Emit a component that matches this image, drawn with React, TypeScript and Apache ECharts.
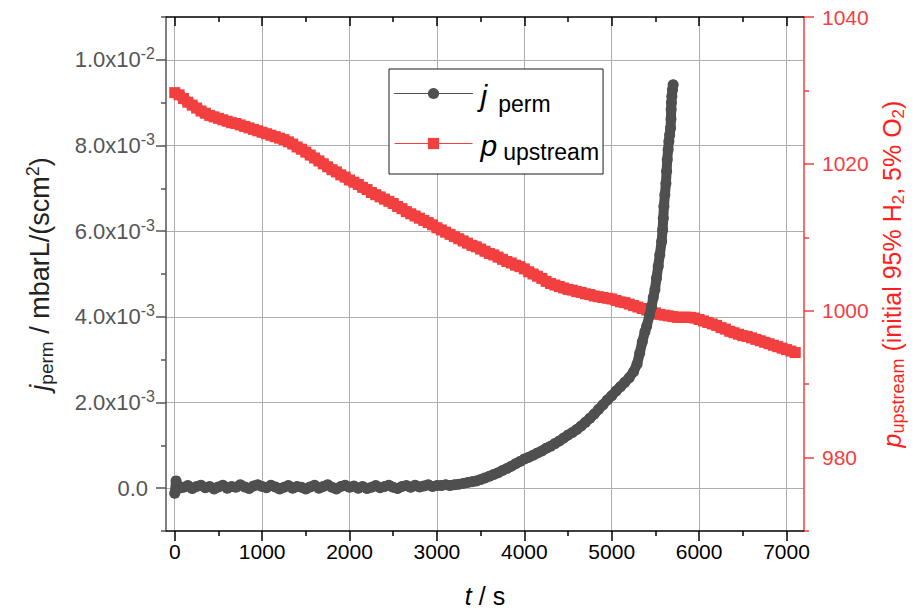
import React, { useEffect, useRef } from "react";
import * as echarts from "echarts";

// ---- data ----
const tJ = [
  0, 15, 30, 50, 100, 150, 200, 250, 300, 350, 400, 450, 500, 550, 600, 650, 700, 750, 800, 850,
  900, 950, 1000, 1050, 1100, 1150, 1200, 1250, 1300, 1350, 1400, 1450, 1500, 1550, 1600, 1650,
  1700, 1750, 1800, 1850, 1900, 1950, 2000, 2050, 2100, 2150, 2200, 2250, 2300, 2350, 2400, 2450,
  2500, 2550, 2600, 2650, 2700, 2750, 2800, 2850, 2900, 2950, 3000, 3050, 3100, 3150, 3200, 3250,
  3300, 3350, 3400, 3450, 3500, 3550, 3600, 3650, 3700, 3750, 3800, 3850, 3900, 3950, 4000, 4050,
  4100, 4150, 4200, 4250, 4300, 4350, 4400, 4450, 4500, 4550, 4600, 4650, 4700, 4750, 4800, 4850,
  4900, 4950, 5000, 5050, 5100, 5150, 5200, 5250, 5290, 5320, 5350, 5380, 5400, 5430, 5456, 5475,
  5494, 5512, 5532, 5550, 5571, 5582, 5590, 5597, 5608, 5620, 5628, 5635, 5645, 5654, 5663, 5673,
  5678, 5680, 5683, 5688, 5695, 5703,
];
const jPerm = [
  -0.12e-3, 0.17e-3, 0.06e-3, 0.0, 0.02e-3, 0.06e-3, -0.01e-3, 0.04e-3, 0.07e-3, 0.01e-3, 0.04e-3, -0.02e-3,
  0.03e-3, 0.07e-3, 0.0, 0.04e-3, 0.02e-3, 0.08e-3, 0.03e-3, -0.01e-3, 0.05e-3, 0.08e-3, 0.04e-3, 0.01e-3,
  0.07e-3, 0.03e-3, -0.02e-3, 0.02e-3, 0.06e-3, 0.0, 0.04e-3, 0.02e-3, -0.02e-3, 0.03e-3, 0.07e-3, 0.0,
  0.04e-3, 0.08e-3, 0.02e-3, -0.02e-3, 0.04e-3, 0.07e-3, 0.02e-3, 0.05e-3, 0.0, 0.04e-3, -0.01e-3, 0.02e-3,
  0.06e-3, 0.01e-3, 0.04e-3, 0.07e-3, 0.02e-3, -0.01e-3, 0.04e-3, 0.06e-3, 0.02e-3, 0.07e-3, 0.03e-3, 0.05e-3,
  0.08e-3, 0.04e-3, 0.06e-3, 0.06e-3, 0.08e-3, 0.06e-3, 0.08e-3, 0.09e-3, 0.11e-3, 0.13e-3, 0.15e-3, 0.17e-3,
  0.2e-3, 0.24e-3, 0.28e-3, 0.32e-3, 0.36e-3, 0.41e-3, 0.46e-3, 0.51e-3, 0.57e-3, 0.62e-3, 0.68e-3, 0.72e-3,
  0.77e-3, 0.82e-3, 0.87e-3, 0.93e-3, 0.98e-3, 1.04e-3, 1.1e-3, 1.17e-3, 1.24e-3, 1.3e-3, 1.37e-3, 1.45e-3,
  1.54e-3, 1.63e-3, 1.73e-3, 1.84e-3, 1.95e-3, 2.06e-3, 2.16e-3, 2.27e-3, 2.37e-3, 2.47e-3, 2.58e-3, 2.72e-3,
  2.9e-3, 3.15e-3, 3.42e-3, 3.65e-3, 3.78e-3, 4.02e-3, 4.24e-3, 4.45e-3, 4.63e-3, 4.9e-3, 5.18e-3, 5.45e-3,
  5.76e-3, 6.03e-3, 6.3e-3, 6.58e-3, 6.85e-3, 7.12e-3, 7.4e-3, 7.67e-3, 7.9e-3, 8.1e-3, 8.25e-3, 8.41e-3,
  8.62e-3, 8.84e-3, 9.0e-3, 9.15e-3, 9.3e-3, 9.42e-3,
];
const tP = [
  0, 50, 100, 150, 200, 250, 300, 350, 400, 450, 500, 550, 600, 650, 700, 750, 800, 850, 900, 950,
  1000, 1050, 1100, 1150, 1200, 1250, 1300, 1350, 1400, 1450, 1500, 1550, 1600, 1650, 1700, 1750,
  1800, 1850, 1900, 1950, 2000, 2050, 2100, 2150, 2200, 2250, 2300, 2350, 2400, 2450, 2500, 2550,
  2600, 2650, 2700, 2750, 2800, 2850, 2900, 2950, 3000, 3050, 3100, 3150, 3200, 3250, 3300, 3350,
  3400, 3450, 3500, 3550, 3600, 3650, 3700, 3750, 3800, 3850, 3900, 3950, 4000, 4050, 4100, 4150,
  4200, 4250, 4300, 4350, 4400, 4450, 4500, 4550, 4600, 4650, 4700, 4750, 4800, 4850, 4900, 4950,
  5000, 5050, 5100, 5150, 5200, 5250, 5300, 5350, 5400, 5450, 5500, 5550, 5600, 5650, 5700, 5750,
  5800, 5850, 5900, 5950, 6000, 6050, 6100, 6150, 6200, 6250, 6300, 6350, 6400, 6450, 6500, 6550,
  6600, 6650, 6700, 6750, 6800, 6850, 6900, 6950, 7000, 7050, 7100,
];
const pUp = [
  1029.7, 1029.4, 1028.9, 1028.4, 1028.0, 1027.6, 1027.2, 1026.9, 1026.6, 1026.4, 1026.2, 1026.0,
  1025.8, 1025.6, 1025.5, 1025.3, 1025.1, 1024.9, 1024.7, 1024.5, 1024.3, 1024.1, 1023.9, 1023.7,
  1023.5, 1023.3, 1023.0, 1022.7, 1022.3, 1022.0, 1021.6, 1021.2, 1020.8, 1020.4, 1020.0, 1019.6,
  1019.2, 1018.9, 1018.5, 1018.2, 1017.8, 1017.5, 1017.2, 1016.8, 1016.5, 1016.1, 1015.8, 1015.5,
  1015.2, 1014.9, 1014.6, 1014.2, 1013.9, 1013.5, 1013.2, 1012.9, 1012.6, 1012.3, 1012.0, 1011.7,
  1011.3, 1011.0, 1010.7, 1010.4, 1010.1, 1009.8, 1009.5, 1009.2, 1008.9, 1008.7, 1008.4, 1008.1,
  1007.8, 1007.6, 1007.3, 1007.0, 1006.7, 1006.5, 1006.2, 1006.0, 1005.7, 1005.3, 1005.0, 1004.7,
  1004.4, 1004.0, 1003.7, 1003.5, 1003.3, 1003.1, 1002.9, 1002.8, 1002.6, 1002.5, 1002.3, 1002.2,
  1002.0, 1001.9, 1001.8, 1001.7, 1001.6, 1001.4, 1001.2, 1001.1, 1000.9, 1000.7, 1000.5, 1000.3,
  1000.1, 999.9, 999.7, 999.5, 999.4, 999.3, 999.2, 999.1, 999.1, 999.1, 999.1, 999.0, 998.8,
  998.6, 998.4, 998.2, 998.0, 997.7, 997.5, 997.2, 997.0, 996.8, 996.6, 996.5, 996.3, 996.1,
  995.9, 995.7, 995.5, 995.3, 995.1, 994.9, 994.7, 994.5, 994.3,
];
const xMajorTicks = [0, 1000, 2000, 3000, 4000, 5000, 6000, 7000];
const xMinorTicks = [500, 1500, 2500, 3500, 4500, 5500, 6500];
const yLeftMajorTicks = [0, 2e-3, 4e-3, 6e-3, 8e-3, 1e-2];
const yLeftMinorTicks = [-1e-3, 1e-3, 3e-3, 5e-3, 7e-3, 9e-3, 1.1e-2];
const yRightMajorTicks = [980, 1000, 1020, 1040];
const yRightMinorTicks = [970, 990, 1010, 1030];

const FONT = "'Liberation Sans', Arial, Helvetica, sans-serif";
const RED = "#f23f3f";
const GRAY = "#4f4f4f";
const AXGRAY = "#555555";

function sciLabel(v: number): string {
  if (Math.abs(v) < 1e-12) return "{z|0.0}";
  const exp = Math.floor(Math.log10(Math.abs(v)) + 1e-9);
  const mant = v / Math.pow(10, exp);
  return `{b|${mant.toFixed(1)}x10}{sup|${exp}}`;
}

export default function App() {
  const ref = useRef<HTMLDivElement>(null);
  useEffect(() => {
    if (!ref.current) return;
    const chart = echarts.init(ref.current, null, { renderer: "svg" });
    const baseX = { type: "value", min: -100, max: 7200, gridIndex: 0 };
    const baseYL = { type: "value", min: -1e-3, max: 1.1e-2, gridIndex: 0 };
    const baseYR = { type: "value", min: 970, max: 1040, gridIndex: 0 };
    const plain = (v: number) => String(v);
    const option: any = {
      animation: false,
      backgroundColor: "#ffffff",
      textStyle: { fontFamily: FONT },
      grid: {
        left: 166,
        top: 17,
        width: 638,
        height: 514,
        containLabel: false,
        outerBoundsMode: "none",
      },
      legend: {
        data: ["jperm", "pupstream"],
        orient: "vertical",
        left: 389,
        top: 69,
        padding: [3, 4, 11, 5],
        itemGap: 9,
        itemWidth: 78,
        itemHeight: 14,
        backgroundColor: "#ffffff",
        borderColor: "#1a1a1a",
        borderWidth: 1,
        borderRadius: 0,
        selectedMode: false,
        lineStyle: { width: 1 },
        formatter: (n: string) => (n === "jperm" ? "{i|j}{sp|perm}" : "{i|p}{su|upstream}"),
        textStyle: {
          color: "#000",
          fontFamily: FONT,
          rich: {
            i: { fontSize: 30, fontStyle: "italic", lineHeight: 34, padding: [3, 0, 0, 3], fontFamily: FONT, color: "#000" },
            sp: { fontSize: 23, lineHeight: 22, padding: [20, 0, 0, 11], fontFamily: FONT, color: "#000" },
            su: { fontSize: 23, lineHeight: 22, padding: [16, 0, 0, 6], fontFamily: FONT, color: "#000" },
          },
        },
      },
      xAxis: [
        {
          ...baseX,
          position: "bottom",
          name: "{i|t} / s",
          nameLocation: "middle",
          nameGap: 52,
          nameTextStyle: {
            fontSize: 25,
            color: "#000",
            fontFamily: FONT,
            rich: { i: { fontSize: 25, fontStyle: "italic", color: "#000", fontFamily: FONT } },
          },
          axisLine: { show: true, onZero: false, lineStyle: { color: "#000", width: 1.5 } },
          axisTick: { show: true, inside: false, length: 10, customValues: xMajorTicks, lineStyle: { color: "#000", width: 1.5 } },
          axisLabel: { show: true, customValues: xMajorTicks, formatter: plain, fontSize: 21, color: "#000", margin: 10, fontFamily: FONT },
          splitLine: { show: true, lineStyle: { color: "#aeaeae", width: 1 } },
        },
        {
          ...baseX,
          position: "top",
          axisLine: { show: true, onZero: false, lineStyle: { color: "#000", width: 1.5 } },
          axisTick: { show: true, inside: true, length: 9, customValues: xMajorTicks, lineStyle: { color: "#000", width: 1.5 } },
          axisLabel: { show: false },
          splitLine: { show: false },
        },
        {
          ...baseX,
          position: "bottom",
          axisLine: { show: false, onZero: false },
          axisTick: { show: true, inside: false, length: 5, customValues: xMinorTicks, lineStyle: { color: "#000", width: 1.5 } },
          axisLabel: { show: false },
          splitLine: { show: false },
        },
        {
          ...baseX,
          position: "top",
          axisLine: { show: false, onZero: false },
          axisTick: { show: true, inside: true, length: 5, customValues: xMinorTicks, lineStyle: { color: "#000", width: 1.5 } },
          axisLabel: { show: false },
          splitLine: { show: false },
        },
      ],
      yAxis: [
        {
          ...baseYL,
          position: "left",
          name: "{i|j}{sub|perm}{n| / mbarL/(scm}{sup|2}{n|)}",
          nameLocation: "middle",
          nameGap: 110,
          nameTextStyle: {
            color: "#222",
            fontFamily: FONT,
            fontSize: 27,
            rich: {
              i: { fontSize: 27, fontStyle: "italic", lineHeight: 32, color: "#222", fontFamily: FONT },
              n: { fontSize: 27, lineHeight: 32, color: "#222", fontFamily: FONT },
              sub: { fontSize: 19, lineHeight: 16, verticalAlign: "bottom", color: "#222", fontFamily: FONT },
              sup: { fontSize: 18, lineHeight: 16, verticalAlign: "top", color: "#222", fontFamily: FONT },
            },
          },
          axisLine: { show: true, onZero: false, lineStyle: { color: AXGRAY, width: 1.5 } },
          axisTick: { show: true, inside: false, length: 10, customValues: yLeftMajorTicks, lineStyle: { color: AXGRAY, width: 1.5 } },
          axisLabel: {
            show: true,
            customValues: yLeftMajorTicks,
            margin: 11,
            formatter: sciLabel,
            color: AXGRAY,
            fontFamily: FONT,
            rich: {
              b: { fontSize: 22, lineHeight: 28, color: AXGRAY, fontFamily: FONT },
              sup: { fontSize: 16, lineHeight: 16, verticalAlign: "top", color: AXGRAY, fontFamily: FONT },
              z: { fontSize: 22, lineHeight: 28, color: AXGRAY, padding: [0, 7, 0, 0], fontFamily: FONT },
            },
          },
          splitLine: { show: true, lineStyle: { color: "#aeaeae", width: 1 } },
        },
        {
          ...baseYR,
          position: "right",
          name: "{i|p}{sub|upstream}{n| (initial 95% H}{sub2|2}{n|, 5% O}{sub2|2}{n|)}",
          nameLocation: "middle",
          nameGap: 68,
          nameTextStyle: {
            color: "#ff1f1f",
            fontFamily: FONT,
            fontSize: 25,
            rich: {
              i: { fontSize: 25, fontStyle: "italic", lineHeight: 30, color: "#ff1f1f", fontFamily: FONT },
              n: { fontSize: 25, lineHeight: 30, color: "#ff1f1f", fontFamily: FONT },
              sub: { fontSize: 18, lineHeight: 16, verticalAlign: "bottom", color: "#ff1f1f", fontFamily: FONT },
              sub2: { fontSize: 17, lineHeight: 16, verticalAlign: "bottom", color: "#ff1f1f", fontFamily: FONT },
            },
          },
          axisLine: { show: true, onZero: false, lineStyle: { color: RED, width: 1.5 } },
          axisTick: { show: true, inside: false, length: 10, customValues: yRightMajorTicks, lineStyle: { color: RED, width: 1.5 } },
          axisLabel: { show: true, customValues: yRightMajorTicks, formatter: plain, margin: 18, fontSize: 21, color: RED, fontFamily: FONT },
          splitLine: { show: false },
        },
        {
          ...baseYL,
          position: "left",
          axisLine: { show: false, onZero: false },
          axisTick: { show: true, inside: false, length: 5, customValues: yLeftMinorTicks, lineStyle: { color: AXGRAY, width: 1.5 } },
          axisLabel: { show: false },
          splitLine: { show: false },
        },
        {
          ...baseYR,
          position: "right",
          axisLine: { show: false, onZero: false },
          axisTick: { show: true, inside: false, length: 5, customValues: yRightMinorTicks, lineStyle: { color: RED, width: 1.5 } },
          axisLabel: { show: false },
          splitLine: { show: false },
        },
      ],
      series: [
        {
          name: "pupstream",
          type: "line",
          xAxisIndex: 0,
          yAxisIndex: 1,
          data: tP.map((t, i) => [t, pUp[i]]),
          symbol: "rect",
          symbolSize: 11,
          showSymbol: true,
          lineStyle: { color: RED, width: 11, cap: "butt", join: "round" },
          itemStyle: { color: RED, borderWidth: 0 },
          z: 3,
        },
        {
          name: "jperm",
          type: "line",
          xAxisIndex: 0,
          yAxisIndex: 0,
          data: tJ.map((t, i) => [t, jPerm[i]]),
          symbol: "circle",
          symbolSize: 11,
          showSymbol: true,
          lineStyle: { color: GRAY, width: 10, cap: "round", join: "round" },
          itemStyle: { color: GRAY, borderWidth: 0 },
          z: 4,
        },
      ],
    };
    chart.setOption(option);
    return () => chart.dispose();
  }, []);
  return (
    <div
      ref={ref}
      style={{ position: "fixed", left: 0, top: 0, width: 923, height: 610, background: "#fff" }}
    />
  );
}
